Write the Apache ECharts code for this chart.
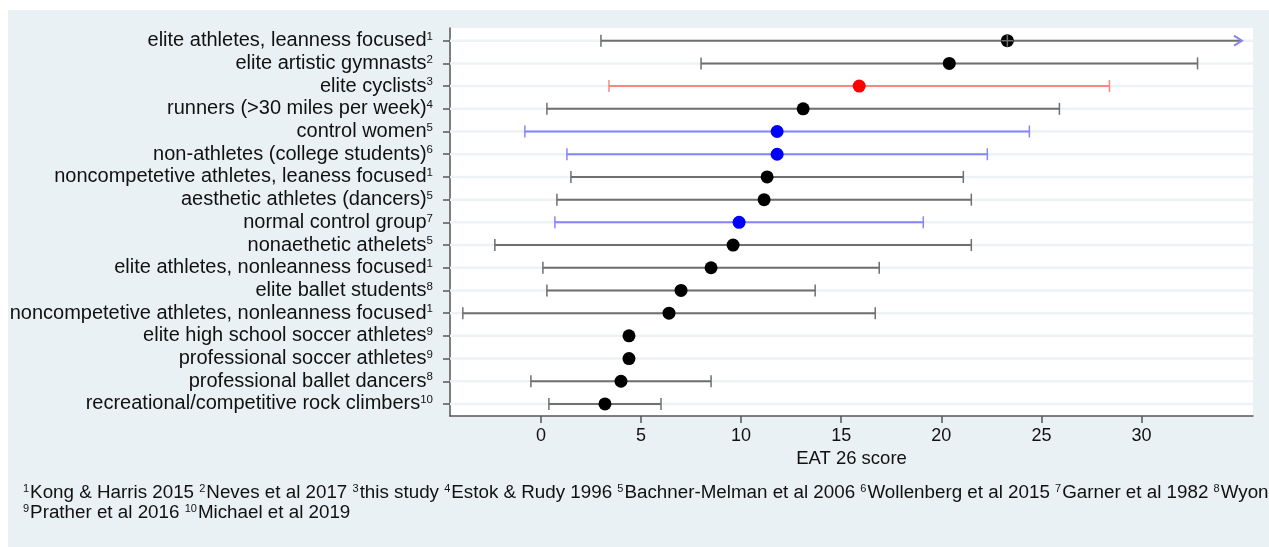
<!DOCTYPE html>
<html><head><meta charset="utf-8">
<script src="https://cdn.jsdelivr.net/npm/echarts@6/dist/echarts.min.js"></script>
<style>html,body{margin:0;padding:0;background:#fff}#c{width:1269px;height:547px}</style>
</head><body><div id="c"></div>
<script>
// ---- data (top row first, as displayed) ----
const groups = [
  'elite athletes, leanness focused',
  'elite artistic gymnasts',
  'elite cyclists',
  'runners (>30 miles per week)',
  'control women',
  'non-athletes (college students)',
  'noncompetetive athletes, leaness focused',
  'aesthetic athletes (dancers)',
  'normal control group',
  'nonaethetic athelets',
  'elite athletes, nonleanness focused',
  'elite ballet students',
  'noncompetetive athletes, nonleanness focused',
  'elite high school soccer athletes',
  'professional soccer athletes',
  'professional ballet dancers',
  'recreational/competitive rock climbers'
];
const refs  = [1, 2, 3, 4, 5, 6, 1, 5, 7, 5, 1, 8, 1, 9, 9, 8, 10];
const means = [23.3, 20.4, 15.9, 13.1, 11.8, 11.8, 11.3, 11.15, 9.9, 9.6, 8.5, 7.0, 6.4, 4.4, 4.4, 4.0, 3.2];
const lower = [3.0, 8.0, 3.4, 0.3, -0.8, 1.3, 1.5, 0.8, 0.7, -2.3, 0.1, 0.3, -3.9, null, null, -0.5, 0.4];
const upper = [43.6, 32.8, 28.4, 25.9, 24.4, 22.3, 21.1, 21.5, 19.1, 21.5, 16.9, 13.7, 16.7, null, null, 8.5, 6.0];
const kinds = ['ath','ath','study','ath','ctrl','ctrl','ath','ath','ctrl','ath','ath','ath','ath','ath','ath','ath','ath'];
const xTicks = [0, 5, 10, 15, 20, 25, 30];
const xTitle = 'EAT 26 score';
const footnoteRefs = [
  ['1', 'Kong & Harris 2015'], ['2', 'Neves et al 2017'], ['3', 'this study'],
  ['4', 'Estok & Rudy 1996'], ['5', 'Bachner-Melman et al 2006'], ['6', 'Wollenberg et al 2015'],
  ['7', 'Garner et al 1982'], ['8', 'Wyon']
];
const footnoteRefs2 = [['9', 'Prather et al 2016'], ['10', 'Michael et al 2019']];

// ---- styles ----
const FONT = '"Liberation Sans", Arial, Helvetica, sans-serif';
const kindStyle = {
  ath:   { line: '#6f6f6f', dot: '#000000' },
  study: { line: '#ff8585', dot: '#ff0000' },
  ctrl:  { line: '#8585ff', dot: '#0000ff' }
};
const XMIN = -4.54, XMAX = 35.57;
const n = groups.length;
const rowY = i => n - 1 - i;

const barData = groups.map((g, i) => [rowY(i), lower[i], upper[i], i]);
const dotData = groups.map((g, i) => ({
  value: [means[i], rowY(i)],
  itemStyle: { color: kindStyle[kinds[i]].dot, opacity: 1 }
}));
const crossData = groups.map((g, i) => [means[i], rowY(i), upper[i]]);
const nameByY = {};
groups.forEach((g, i) => { nameByY[rowY(i)] = i; });

function footRich(list) {
  return list.map(([s, t]) => '{s|' + s + '}{t|' + t + '}').join('{t| }');
}
const footRichStyles = {
  t: { fontSize: 18.8, fontFamily: FONT, color: '#111' },
  s: { fontSize: 11, fontFamily: FONT, color: '#111', padding: [0, 1, 8, 0] }
};

const chart = echarts.init(document.getElementById('c'), null, { renderer: 'canvas' });
chart.setOption({
  backgroundColor: '#ffffff',
  animation: false,
  graphic: [
    { type: 'rect', left: 8, top: 10, shape: { width: 1261, height: 537 }, style: { fill: '#e9f1f4' }, z: -10, silent: true },
    { type: 'text', left: 23, top: 483, z: 10,
      style: { text: footRich(footnoteRefs), font: '18.8px ' + FONT, fill: '#111', rich: footRichStyles } },
    { type: 'text', left: 23, top: 503, z: 10,
      style: { text: footRich(footnoteRefs2), font: '18.8px ' + FONT, fill: '#111', rich: footRichStyles } }
  ],
  grid: { left: 450, right: 16, top: 28, bottom: 131, show: true, backgroundColor: '#ffffff', borderWidth: 0 },
  xAxis: {
    type: 'value', min: XMIN, max: XMAX,
    axisLine: { show: true, onZero: false, lineStyle: { color: '#555', width: 1.5 } },
    axisTick: { show: true, customValues: xTicks, length: 7, lineStyle: { color: '#555', width: 1.5 } },
    axisLabel: { customValues: xTicks, fontSize: 18, fontFamily: FONT, color: '#111', margin: 11 },
    splitLine: { show: false },
    name: xTitle, nameLocation: 'middle', nameGap: 33,
    nameTextStyle: { fontSize: 18.5, fontFamily: FONT, color: '#111' }
  },
  yAxis: {
    type: 'value', min: -0.53, max: 16.56,
    axisLine: { show: true, onZero: false, lineStyle: { color: '#555', width: 1.5 } },
    axisTick: { show: true, customValues: groups.map((g, i) => rowY(i)), length: 7, lineStyle: { color: '#555', width: 1.5 } },
    axisLabel: {
      customValues: groups.map((g, i) => rowY(i)), margin: 17,
      formatter: v => { const i = nameByY[Math.round(v)]; return '{t|' + groups[i] + '}{s|' + refs[i] + '}'; },
      rich: {
        t: { fontSize: 20, fontFamily: FONT, color: '#111' },
        s: { fontSize: 11.5, fontFamily: FONT, color: '#111', padding: [0, 0, 8, 0] }
      }
    },
    splitLine: { show: false }
  },
  series: [
    {
      type: 'custom', z: 2,
      data: barData,
      renderItem: (params, api) => {
        const yv = api.value(0), lo = api.value(1), hi = api.value(2), idx = api.value(3);
        const cs = params.coordSys;
        const cy = api.coord([0, yv])[1];
        const children = [{
          type: 'line', shape: { x1: cs.x, y1: cy, x2: cs.x + cs.width, y2: cy },
          style: { stroke: '#edf2f5', lineWidth: 2.5 }, z2: 0
        }];
        if (lo == null || isNaN(lo)) return { type: 'group', children };
        const col = kindStyle[kinds[idx]].line;
        const truncated = hi > XMAX;
        const xl = api.coord([lo, yv])[0];
        const xh = truncated ? api.coord([XMAX - 0.55, yv])[0] : api.coord([hi, yv])[0];
        children.push({ type: 'line', shape: { x1: xl, y1: cy, x2: xh, y2: cy }, style: { stroke: col, lineWidth: 2 }, z2: 2 });
        children.push({ type: 'line', shape: { x1: xl, y1: cy - 6, x2: xl, y2: cy + 6 }, style: { stroke: col, lineWidth: 1.5 }, z2: 2 });
        if (truncated) {
          children.push({ type: 'polyline', shape: { points: [[xh - 8, cy - 5], [xh, cy], [xh - 8, cy + 5]] }, style: { stroke: '#8c84e6', lineWidth: 2, fill: null }, z2: 3 });
        } else {
          children.push({ type: 'line', shape: { x1: xh, y1: cy - 6, x2: xh, y2: cy + 6 }, style: { stroke: col, lineWidth: 1.5 }, z2: 2 });
        }
        return { type: 'group', children };
      }
    },
    {
      type: 'scatter', z: 3,
      symbol: 'circle', symbolSize: 13,
      itemStyle: { opacity: 1 },
      data: dotData
    },
    {
      // line drawn over the marker of the row whose interval runs off the axis
      type: 'custom', z: 4, silent: true,
      data: crossData,
      renderItem: (params, api) => {
        const hi = api.value(2);
        if (!(hi > XMAX)) return null;
        const p = api.coord([api.value(0), api.value(1)]);
        return { type: 'group', children: [
          { type: 'line', shape: { x1: p[0] - 6, y1: p[1], x2: p[0] + 6, y2: p[1] }, style: { stroke: '#6f6f6f', lineWidth: 1.5 } },
          { type: 'line', shape: { x1: p[0], y1: p[1] - 6, x2: p[0], y2: p[1] + 6 }, style: { stroke: '#6f6f6f', lineWidth: 1.5 } }
        ] };
      }
    }
  ]
});
</script>
</body></html>
